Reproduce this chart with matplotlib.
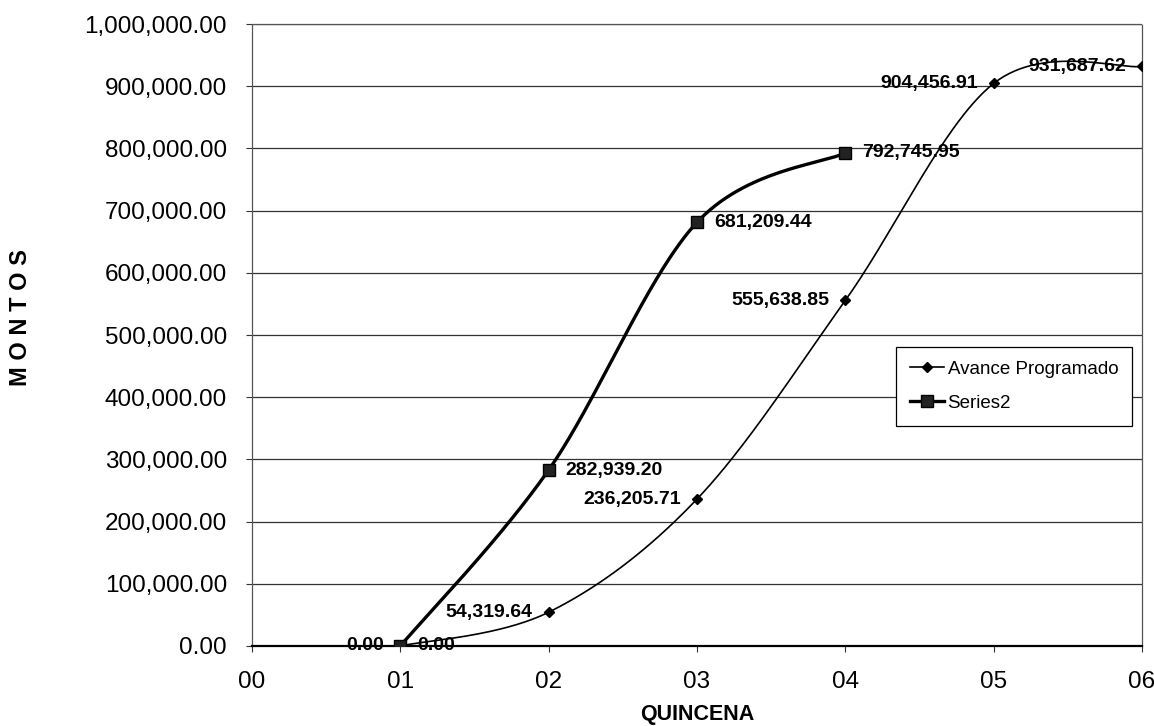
import numpy as np
import matplotlib
matplotlib.use("Agg")
import matplotlib.pyplot as plt
from matplotlib.ticker import FuncFormatter
from matplotlib.lines import Line2D

# ---- data ----
quincena_labels = ["00", "01", "02", "03", "04", "05", "06"]
avance_x = [1, 2, 3, 4, 5, 6]
avance_y = [0.00, 54319.64, 236205.71, 555638.85, 904456.91, 931687.62]
series2_x = [1, 2, 3, 4]
series2_y = [0.00, 282939.20, 681209.44, 792745.95]
series_names = ["Avance Programado", "Series2"]

FONT = "Liberation Sans"
plt.rcParams['font.family'] = [FONT, 'DejaVu Sans']


def smooth(xs, ys, n=60):
    """Excel-like smoothed line: cubic Bezier through points (Catmull-Rom tangents)."""
    P = np.column_stack([np.asarray(xs, float), np.asarray(ys, float)])
    m = len(P)
    out = []
    t = np.linspace(0, 1, n)[:, None]
    for i in range(m - 1):
        p0 = P[i]
        p3 = P[i + 1]
        pm = P[i - 1] if i > 0 else P[i]
        pp = P[i + 2] if i + 2 < m else P[i + 1]
        c1 = p0 + (p3 - pm) / 6.0
        c2 = p3 - (pp - p0) / 6.0
        seg = ((1 - t) ** 3) * p0 + 3 * ((1 - t) ** 2) * t * c1 + 3 * (1 - t) * t ** 2 * c2 + t ** 3 * p3
        out.append(seg if i == 0 else seg[1:])
    s = np.vstack(out)
    return s[:, 0], s[:, 1]


fig = plt.figure(figsize=(11.54, 7.26), dpi=100)
ax = fig.add_axes([252 / 1154, 80 / 726, 890 / 1154, 622 / 726])

ax.set_xlim(0, 6)
ax.set_ylim(0, 1000000)

# gridlines
ax.set_yticks(np.arange(0, 1000001, 100000))
ax.yaxis.grid(True, color="#333333", linewidth=0.9)
ax.set_axisbelow(True)

# series lines
sx, sy = smooth(avance_x, avance_y)
ax.plot(sx, sy, color="black", linewidth=1.2, zorder=3)
ax.plot(avance_x, avance_y, linestyle="none", marker="D", markersize=5.5,
        color="black", zorder=4)
s2x, s2y = smooth(series2_x, series2_y)
ax.plot(s2x, s2y, color="black", linewidth=2.4, zorder=3)
ax.plot(series2_x, series2_y, linestyle="none", marker="s", markersize=8,
        markerfacecolor="#222222", markeredgecolor="black", zorder=5)

# data labels
fmt = lambda v: f"{v:,.2f}"
for x, y in zip(avance_x, avance_y):
    ax.annotate(fmt(y), (x, y), xytext=(-16, 0), textcoords="offset pixels",
                ha="right", va="center", fontsize=14, fontweight="bold", zorder=2)
for x, y in zip(series2_x, series2_y):
    ax.annotate(fmt(y), (x, y), xytext=(17, 0), textcoords="offset pixels",
                ha="left", va="center", fontsize=14, fontweight="bold", zorder=6)

# axes styling
ax.set_xticks(range(len(quincena_labels)))
ax.set_xticklabels(quincena_labels)
ax.yaxis.set_major_formatter(FuncFormatter(lambda v, p: f"{v:,.2f}"))
ax.tick_params(axis="both", labelsize=17.5, direction="out", length=4, width=0.8, color="#333333")
ax.tick_params(axis="y", pad=14)
ax.tick_params(axis="x", pad=14)

for side in ["left", "top", "right"]:
    ax.spines[side].set_linestyle((0, (1, 1)))
    ax.spines[side].set_color("#555555")
    ax.spines[side].set_linewidth(0.9)
ax.spines["bottom"].set_color("black")
ax.spines["bottom"].set_linewidth(1.6)

ax.set_xlabel("QUINCENA", fontsize=15.5, fontweight="bold", labelpad=8)
fig.text(21 / 1154, 1 - 318 / 726, "M O N T O S", rotation=90, ha="center", va="center",
         fontsize=17, fontweight="bold")

# legend
handles = [
    Line2D([], [], color="black", linewidth=1.2, marker="D", markersize=5.5),
    Line2D([], [], color="black", linewidth=2.4, marker="s", markersize=8,
           markerfacecolor="#222222"),
]
leg = ax.legend(handles, series_names, loc="upper right", bbox_to_anchor=(0.989, 0.481),
                fontsize=13.5, frameon=True, fancybox=False, framealpha=1,
                edgecolor="black", handlelength=1.8, handletextpad=0.2,
                borderpad=0.75, labelspacing=0.9, borderaxespad=0)
leg.get_frame().set_linewidth(0.9)
leg.set_zorder(7)

fig.savefig("out.png", dpi=100)
